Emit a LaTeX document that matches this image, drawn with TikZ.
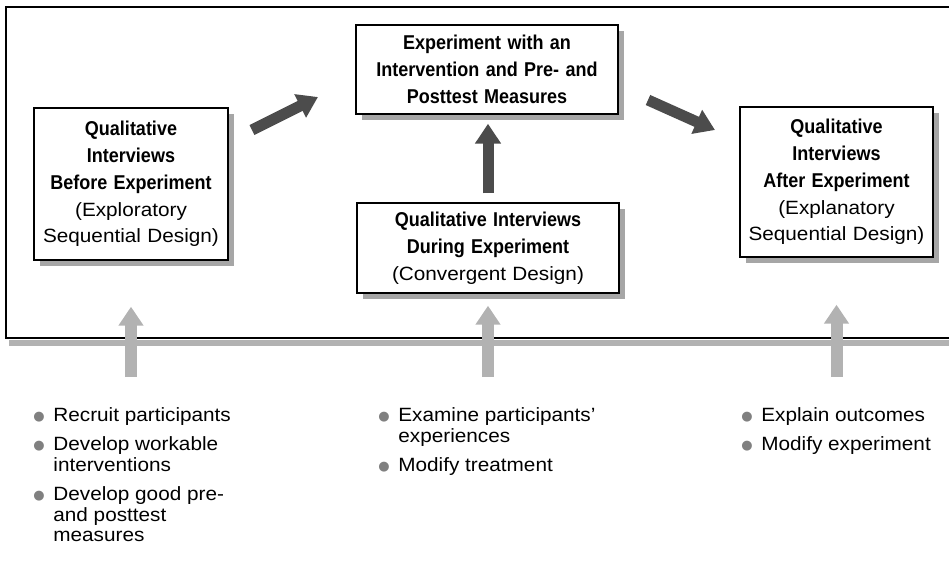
\documentclass[tikz,border=0pt]{standalone}
\usepackage{fontspec}
\setmainfont{Liberation Sans}[FakeStretch=1.08]
\newfontfamily\headfont{Liberation Sans}[FakeStretch=0.9]
\newfontfamily\symfont{DejaVu Sans}
\usetikzlibrary{arrows.meta, shadows}

\newcommand{\boldhead}[1]{{\headfont\bfseries\fontsize{10pt}{13.4pt}\selectfont #1}}
\newcommand{\dotmark}{\makebox[10pt][l]{\raisebox{0.6pt}{\textcolor{black!50}{\symfont\fontsize{6.5pt}{6.5pt}\selectfont ●}}}}

\tikzset{
  stagebox/.style={draw, line width=0.7pt, fill=white, align=center, inner sep=2pt,
    font=\fontsize{9.6pt}{13.4pt}\selectfont,
    drop shadow={shadow xshift=3pt, shadow yshift=-3pt, fill=black!35, opacity=1}},
  bulletlist/.style={anchor=north west, inner sep=0pt,
    font=\fontsize{9.6pt}{10.4pt}\selectfont},
  darkarrow/.style={line width=5.5pt, black!70, -{Triangle[length=10pt, width=12.5pt]}},
  lightarrow/.style={line width=6pt, black!30, -{Triangle[length=9.5pt, width=12pt]}}
}

\begin{document}
\begin{tikzpicture}[x=0.5pt, y=-0.5pt]
\useasboundingbox (0,0) rectangle (949,570);

% Outer frame, open on the right
\fill[black!30] (9,340) rectangle (949,346);
\draw[line width=0.6pt] (949,7) -- (6,7) -- (6,338) -- (949,338);

% Stages
\node[stagebox, minimum width=97pt, minimum height=76pt, text width=93pt] (before) at (131,184)
  {\boldhead{Qualitative}\\\boldhead{Interviews}\\\boldhead{Before Experiment}\\(Exploratory\\Sequential Design)};
\node[stagebox, minimum width=131pt, minimum height=44.5pt, text width=127pt] (trial) at (487,69.5)
  {\boldhead{Experiment with an}\\\boldhead{Intervention and Pre- and}\\\boldhead{Posttest Measures}};
\node[stagebox, minimum width=131pt, minimum height=45pt, text width=127pt] (during) at (488,248)
  {\boldhead{Qualitative Interviews}\\\boldhead{During Experiment}\\(Convergent Design)};
\node[stagebox, minimum width=96.5pt, minimum height=75pt, text width=92.5pt] (after) at (836.5,182)
  {\boldhead{Qualitative}\\\boldhead{Interviews}\\\boldhead{After Experiment}\\(Explanatory\\Sequential Design)};

% Flow between stages
\coordinate (ltail) at (252,130);
\coordinate (lhead) at (318,97);
\coordinate (rtail) at (648,100);
\coordinate (rhead) at (715,130);
\draw[darkarrow] (ltail) -- (lhead);
\draw[darkarrow] (rtail) -- (rhead);
\draw[darkarrow, shorten <=4.5pt, shorten >=4.5pt] (during.north) -- (during.north |- trial.south);

% Purposes
\node[bulletlist] (listbefore) at (33,407)
  {\begin{tabular}{@{}l@{}l@{}}
   \dotmark & Recruit participants\\[4pt]
   \dotmark & Develop workable\\
            & interventions\\[4pt]
   \dotmark & Develop good pre-\\
            & and posttest\\
            & measures
   \end{tabular}};
\node[bulletlist] (listduring) at (378,407)
  {\begin{tabular}{@{}l@{}l@{}}
   \dotmark & Examine participants'\\
            & experiences\\[4pt]
   \dotmark & Modify treatment
   \end{tabular}};
\node[bulletlist] (listafter) at (741,407)
  {\begin{tabular}{@{}l@{}l@{}}
   \dotmark & Explain outcomes\\[4pt]
   \dotmark & Modify experiment
   \end{tabular}};

\draw[lightarrow, shorten <=15pt, shorten >=23pt] (before.south |- listbefore.north) -- (before.south);
\draw[lightarrow, shorten <=15pt, shorten >=6pt] (during.south |- listduring.north) -- (during.south);
\draw[lightarrow, shorten <=15pt, shorten >=23.5pt] (after.south |- listafter.north) -- (after.south);

\end{tikzpicture}
\end{document}
